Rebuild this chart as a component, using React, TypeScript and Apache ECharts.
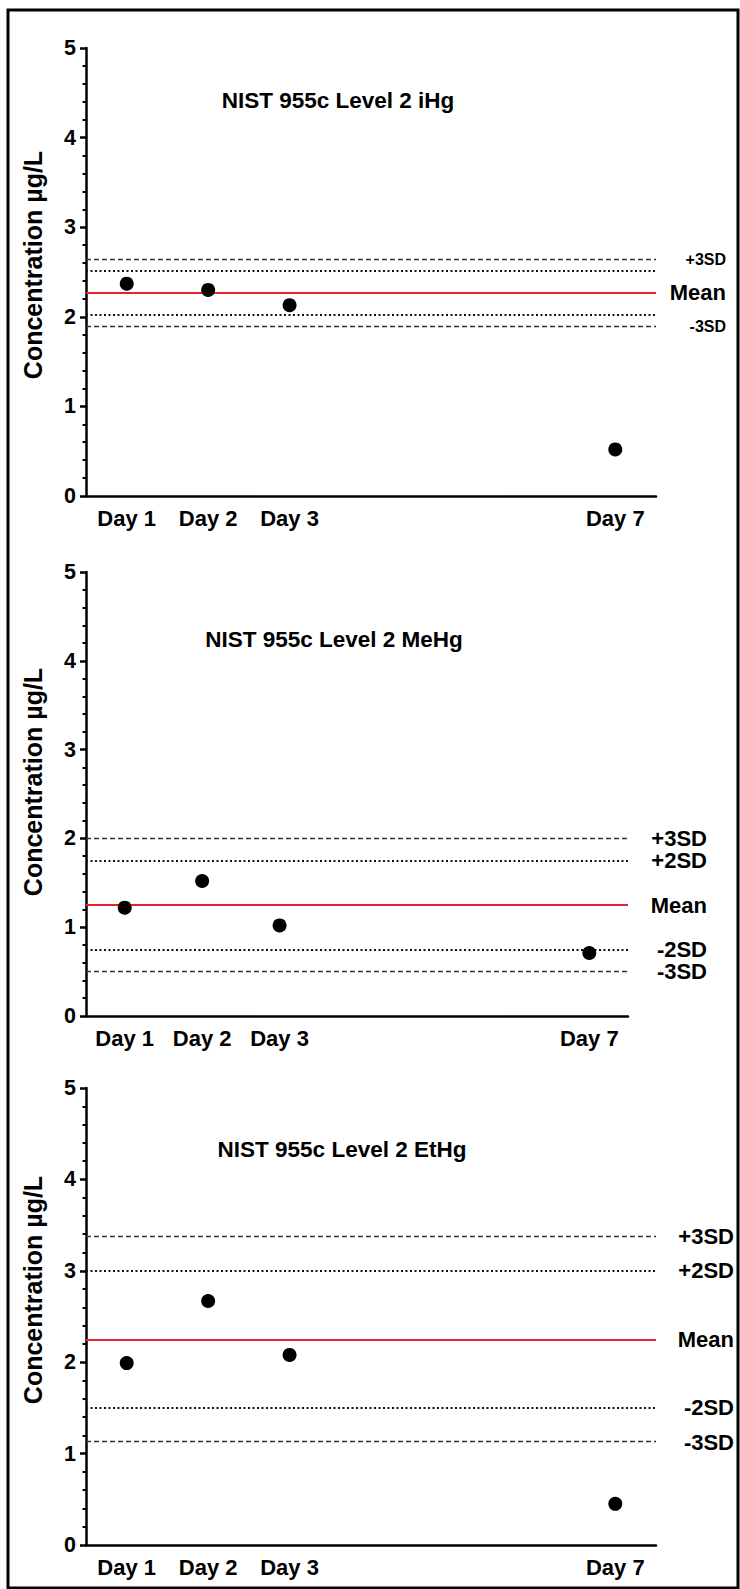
import React, { useEffect, useRef } from "react";
import * as echarts from "echarts";

// ---- data ----
const days = ["Day 1", "Day 2", "Day 3", "Day 4", "Day 5", "Day 6", "Day 7"];
const labelledDayIndex = [0, 1, 2, 6];
const sampleDays = ["Day 1", "Day 2", "Day 3", "Day 7"];

const panelTitles = [
  "NIST 955c Level 2 iHg",
  "NIST 955c Level 2 MeHg",
  "NIST 955c Level 2 EtHg",
];
const yAxisName = "Concentration µg/L";
const yTicks = [0, 1, 2, 3, 4, 5];

const iHgValues = [2.37, 2.3, 2.13, 0.52];
const meHgValues = [1.22, 1.52, 1.02, 0.71];
const etHgValues = [1.99, 2.67, 2.08, 0.45];

// reference lines: +3SD, +2SD, Mean, -2SD, -3SD
const iHgLimits = [2.64, 2.51, 2.27, 2.02, 1.89];
const meHgLimits = [2.0, 1.75, 1.25, 0.75, 0.5];
const etHgLimits = [3.375, 3.0, 2.25, 1.5, 1.125];

const iHgLimitLabels = ["+3SD", "", "Mean", "", "-3SD"];
const meHgLimitLabels = ["+3SD", "+2SD", "Mean", "-2SD", "-3SD"];
const etHgLimitLabels = ["+3SD", "+2SD", "Mean", "-2SD", "-3SD"];

const FONT = "'Liberation Sans', Arial, Helvetica, sans-serif";

export default function App() {
  const ref = useRef<HTMLDivElement>(null);

  useEffect(() => {
    document.body.style.margin = "0";
    if (!ref.current) return;
    const chart = echarts.init(ref.current, null, { renderer: "svg" });

    const values = [iHgValues, meHgValues, etHgValues];
    const limits = [iHgLimits, meHgLimits, etHgLimits];
    const limitLabels = [iHgLimitLabels, meHgLimitLabels, etHgLimitLabels];

    const grids = [
      { left: 86, top: 48, width: 570, height: 448 },
      { left: 86, top: 572, width: 542, height: 444 },
      { left: 86, top: 1088, width: 570, height: 457 },
    ];
    const labelRight = [726, 707, 734];
    const sdFontSize = [16, 22, 22];
    const titlePos = [
      [338, 100],
      [334, 639],
      [342, 1149],
    ];
    const axisNamePos = [
      [33, 265],
      [33, 782],
      [33, 1290],
    ];

    const lineStyles = [
      { type: [5, 3], color: "#333", width: 1.3 },
      { type: [2, 2.5], color: "#111", width: 1.8 },
      { type: "solid", color: "#e8212b", width: 2 },
      { type: [2, 2.5], color: "#111", width: 1.8 },
      { type: [5, 3], color: "#333", width: 1.3 },
    ];

    const showDay = (i: number) => labelledDayIndex.includes(i);

    const option: any = {
      animation: false,
      grid: grids.map((g) => ({ ...g, containLabel: false })),
      xAxis: grids.map((_, i) => ({
        type: "category",
        gridIndex: i,
        data: days,
        boundaryGap: true,
        axisLine: { lineStyle: { color: "#000", width: 2.5 } },
        axisTick: {
          alignWithLabel: true,
          interval: (idx: number) => showDay(idx),
          length: 6,
          lineStyle: { color: "#000", width: 2.5 },
        },
        axisLabel: {
          interval: (idx: number) => showDay(idx),
          color: "#000",
          fontFamily: FONT,
          fontWeight: "bold",
          fontSize: 22,
          margin: 11,
        },
        splitLine: { show: false },
      })),
      yAxis: grids.map((_, i) => ({
        type: "value",
        gridIndex: i,
        min: yTicks[0],
        max: yTicks[yTicks.length - 1],
        interval: 1,
        axisLine: { show: true, lineStyle: { color: "#000", width: 2.5 } },
        axisTick: { show: true, length: 6, lineStyle: { color: "#000", width: 2.5 } },
        minorTick: {
          show: true,
          splitNumber: 5,
          length: 3.5,
          lineStyle: { color: "#000", width: 2 },
        },
        axisLabel: {
          color: "#000",
          fontFamily: FONT,
          fontWeight: "bold",
          fontSize: 21.5,
          margin: 10,
        },
        splitLine: { show: false },
      })),
      series: values.map((vals, i) => ({
        type: "scatter",
        xAxisIndex: i,
        yAxisIndex: i,
        symbolSize: 14,
        itemStyle: { color: "#000", opacity: 1 },
        data: vals.map((v, k) => [sampleDays[k], v]),
        z: 5,
        markLine: {
          silent: true,
          symbol: "none",
          label: { show: false },
          z: 3,
          data: limits[i].map((v, k) => ({
            yAxis: v,
            lineStyle: lineStyles[k],
          })),
        },
      })),
    };

    chart.setOption(option);

    const graphics: any[] = [
      {
        type: "rect",
        shape: { x: 8, y: 10, width: 730, height: 1578 },
        style: { fill: "none", stroke: "#000", lineWidth: 3 },
        silent: true,
      },
    ];
    panelTitles.forEach((t, i) => {
      graphics.push({
        type: "text",
        x: titlePos[i][0],
        y: titlePos[i][1],
        style: {
          text: t,
          fill: "#000",
          font: `bold 22.5px ${FONT}`,
          textAlign: "center",
          textVerticalAlign: "middle",
        },
      });
    });
    axisNamePos.forEach((p) => {
      graphics.push({
        type: "text",
        x: p[0],
        y: p[1],
        rotation: Math.PI / 2,
        style: {
          text: yAxisName,
          fill: "#000",
          font: `bold 25px ${FONT}`,
          textAlign: "center",
          textVerticalAlign: "middle",
        },
      });
    });
    limits.forEach((lim, i) => {
      lim.forEach((v, k) => {
        const lbl = limitLabels[i][k];
        if (!lbl) return;
        const py = chart.convertToPixel({ yAxisIndex: i } as any, v) as number;
        const size = lbl === "Mean" ? 22 : sdFontSize[i];
        graphics.push({
          type: "text",
          x: labelRight[i],
          y: py,
          style: {
            text: lbl,
            fill: "#000",
            font: `bold ${size}px ${FONT}`,
            textAlign: "right",
            textVerticalAlign: "middle",
          },
        });
      });
    });
    chart.setOption({ graphic: graphics });

    return () => chart.dispose();
  }, []);

  return <div ref={ref} style={{ width: 740, height: 1589 }} />;
}
